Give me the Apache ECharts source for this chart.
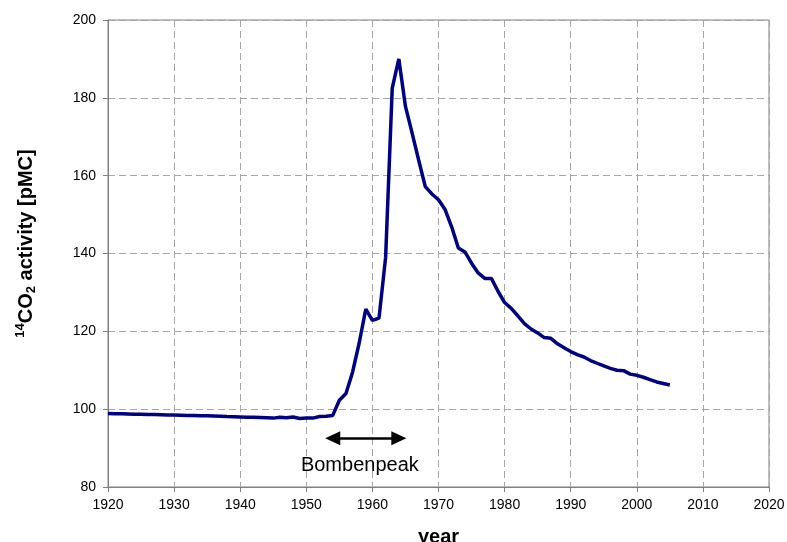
<!DOCTYPE html>
<html>
<head>
<meta charset="utf-8">
<script src="https://cdn.jsdelivr.net/npm/echarts@6/dist/echarts.min.js"></script>
<style>
html,body{margin:0;padding:0;background:#fff;}
#chart{width:787px;height:542px;}
</style>
</head>
<body>
<div id="chart"></div>
<script>
const years = [1920,1921,1922,1923,1924,1925,1926,1927,1928,1929,
1930,1931,1932,1933,1934,1935,1936,1937,1938,1939,
1940,1941,1942,1943,1944,1945,1946,1947,1948,1949,
1950,1951,1952,1953,1954,1955,1956,1957,1958,1959,
1960,1961,1962,1963,1964,1965,1966,1967,1968,1969,
1970,1971,1972,1973,1974,1975,1976,1977,1978,1979,
1980,1981,1982,1983,1984,1985,1986,1987,1988,1989,
1990,1991,1992,1993,1994,1995,1996,1997,1998,1999,
2000,2001,2002,2003,2004,2005];
const co2Activity = [98.9,98.85,98.8,98.75,98.7,98.7,98.65,98.6,98.55,98.5,
98.5,98.45,98.4,98.35,98.3,98.3,98.25,98.2,98.1,98.05,
98.0,97.95,97.9,97.85,97.8,97.7,97.9,97.8,98.0,97.6,
97.7,97.7,98.1,98.2,98.4,102.3,104.0,109.5,117.0,125.7,
122.8,123.4,139.0,182.5,190.0,177.8,171.0,164.0,157.2,155.3,
153.8,151.3,146.8,141.4,140.4,137.5,135.0,133.6,133.6,130.3,
127.4,125.9,124.0,122.0,120.6,119.6,118.4,118.2,116.8,115.8,
114.8,114.0,113.4,112.5,111.8,111.1,110.5,110.0,109.9,109.0,
108.7,108.2,107.6,107.0,106.6,106.2];
const xTicks = {min:1920, max:2020, step:10};
const yTicks = {min:80, max:200, step:20};
const arrowSpan = [1954, 1964];
const arrowLevel = 92.5;
const annotationText = 'Bombenpeak';
const annotationPos = [1958.1, 85.6];

const chart = echarts.init(document.getElementById('chart'));
const font = 'Liberation Sans, Arial, sans-serif';
chart.setOption({
  animation:false,
  backgroundColor:'#fff',
  grid:{left:108,right:18,top:20,bottom:55,show:true,borderColor:'#808080',borderWidth:1,
        containLabel:false,outerBoundsMode:'none'},
  xAxis:{
    type:'value', min:xTicks.min, max:xTicks.max, interval:xTicks.step,
    name:'year', nameLocation:'middle', nameGap:40,
    nameTextStyle:{fontFamily:font,fontSize:20,fontWeight:'bold',color:'#000'},
    axisLine:{show:true,lineStyle:{color:'#808080',width:1}},
    axisTick:{show:true,length:5,lineStyle:{color:'#808080'}},
    axisLabel:{fontFamily:font,fontSize:14,color:'#000',margin:11,formatter:(v)=>String(v)},
    splitLine:{show:true,lineStyle:{color:'#a6a6a6',type:[7,4],width:1}}
  },
  yAxis:{
    type:'value', min:yTicks.min, max:yTicks.max, interval:yTicks.step,
    name:'{sup|14}{b|CO}{sub|2}{b| activity [pMC]}', nameLocation:'middle', nameGap:70, nameRotate:90,
    nameTextStyle:{
      fontFamily:font,fontSize:20,fontWeight:'bold',color:'#000',padding:[0,0,0,20],
      rich:{
        b:{fontFamily:font,fontSize:20,fontWeight:'bold',color:'#000',lineHeight:24,verticalAlign:'middle'},
        sup:{fontFamily:font,fontSize:13,fontWeight:'bold',color:'#000',lineHeight:24,verticalAlign:'top'},
        sub:{fontFamily:font,fontSize:13,fontWeight:'bold',color:'#000',lineHeight:24,verticalAlign:'bottom'}
      }
    },
    axisLine:{show:true,lineStyle:{color:'#808080',width:1}},
    axisTick:{show:true,length:5,lineStyle:{color:'#808080'}},
    axisLabel:{fontFamily:font,fontSize:14,color:'#000',margin:12},
    splitLine:{show:true,lineStyle:{color:'#a6a6a6',type:[7,4],width:1}}
  },
  series:[
    {
      type:'line',
      data:years.map((y,i)=>[y,co2Activity[i]]),
      showSymbol:false,
      lineStyle:{color:'#000080',width:3.5},
      itemStyle:{color:'#000080'},
      z:5,
      markLine:{
        silent:true,
        symbol:['triangle','triangle'],
        symbolSize:[14,15],
        label:{show:false},
        lineStyle:{color:'#000',width:2.5,type:'solid'},
        data:[[{coord:[arrowSpan[0],arrowLevel]},{coord:[arrowSpan[1],arrowLevel]}]]
      }
    },
    {
      type:'scatter',
      data:[annotationPos],
      symbolSize:0,
      silent:true,
      itemStyle:{color:'#000'},
      label:{show:true,position:'inside',formatter:annotationText,fontFamily:font,fontSize:20,color:'#000',opacity:1}
    }
  ]
});
</script>
</body>
</html>
